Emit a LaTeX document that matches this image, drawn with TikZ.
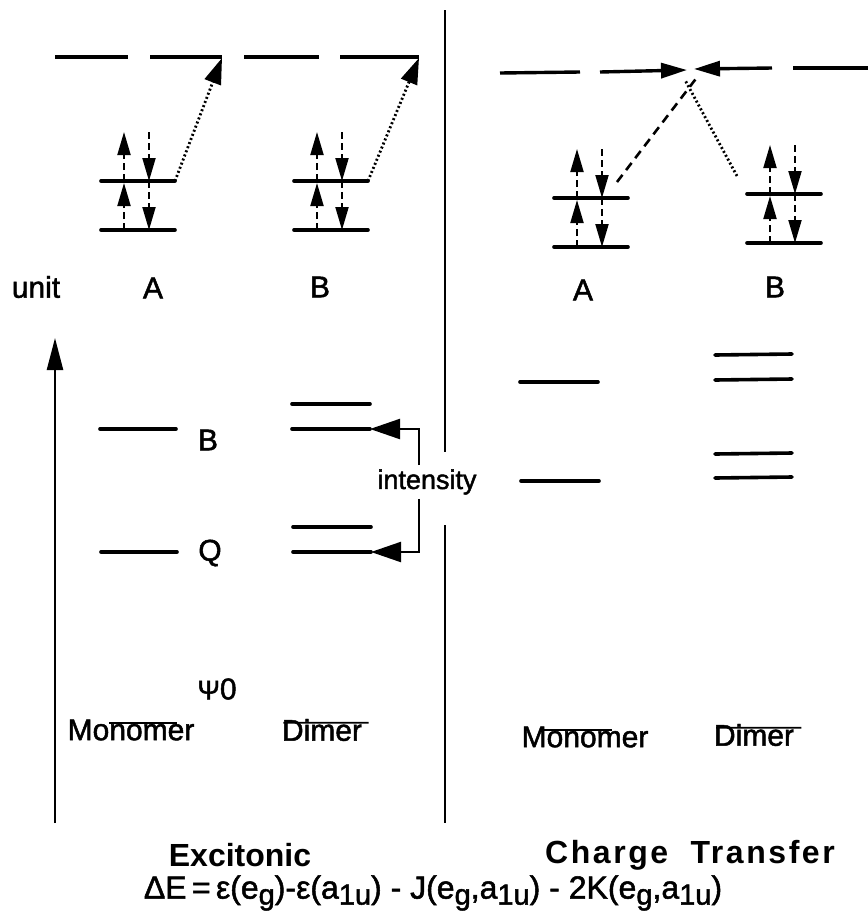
\documentclass[tikz,border=0pt]{standalone}
\usepackage{fontspec}
\setmainfont{Liberation Sans}
\usetikzlibrary{arrows.meta,calc}

% lowered index used in the orbital labels of the formula
\newcommand\lowsub[1]{\raisebox{-6pt}{\fontsize{29}{29}\selectfont #1}}
% slightly heavier regular text
\newcommand\heavy{\addfontfeature{FakeBold=1.6}}

\tikzset{
  level/.style={line width=3.6pt, line cap=round},
  topline/.style={line width=3.4pt},
  sep/.style={line width=2.4pt},
  bigtip/.style={-{Triangle[length=26pt,width=15pt]}},
  spin/.style={line width=2pt, dash pattern=on 7pt off 4pt,
    -{Triangle[length=23pt,width=13pt]}},
  dotpath/.style={line width=2.8pt, dash pattern=on 2pt off 2.4pt},
  dashpath/.style={line width=2.6pt, dash pattern=on 9pt off 6pt},
  txt/.style={font=\fontsize{30}{30}\selectfont\heavy, inner sep=0pt},
  btxt/.style={font=\fontsize{32}{32}\selectfont\bfseries, inner sep=0pt},
  overbar/.style={line width=1.8pt},
  % two filled levels with a spin pair on each
  pics/orbpair/.style={code={
    \coordinate (-hl) at (-37,0);  \coordinate (-hr) at (37,0);
    \coordinate (-ll) at (-37,49); \coordinate (-lr) at (37,49);
    \draw[level] (-hl) -- (-hr);
    \draw[level] (-ll) -- (-lr);
    \draw[spin] (-14,0)  -- (-14,-49);
    \draw[spin] (11,-49) -- (11,0);
    \draw[spin] (-14,49) -- (-14,2);
    \draw[spin] (11,0)   -- (11,49);
  }}
}

\begin{document}
\begin{tikzpicture}[x=1pt,y=-1pt]
\useasboundingbox (0,0) rectangle (868,914);

% ---------- excitonic half ----------
\draw[topline] (55,57) -- (128,57);
\draw[topline] (150,57) -- (222,57);
\draw[topline] (244,57) -- (319,57);
\draw[topline] (340,57) -- (419,57);
\coordinate (tA) at (222,58);
\coordinate (tB) at (419,58);

\pic (mA) at (138,181) {orbpair};
\pic (mB) at (331,181) {orbpair};
\draw[dotpath, -{Triangle[length=26pt,width=17pt]}] (mA-hr) -- (tA);
\draw[dotpath, -{Triangle[length=26pt,width=17pt]}] (mB-hr) -- (tB);

\node[txt] (unit) at (36,287) {unit};
\node[txt] (labA) at (153,288) {A};
\node[txt] (labB) at (320,287) {B};

% energy axis
\coordinate (ax0) at (55,823);
\coordinate (ax1) at (55,338);
\draw[sep, -{Triangle[length=32pt,width=16pt]}] (ax0) -- (ax1);

% monomer levels
\coordinate (mBl) at (100,429); \coordinate (mBr) at (176,429);
\coordinate (mQl) at (101,552); \coordinate (mQr) at (177,552);
\draw[level] (mBl) -- (mBr);
\draw[level] (mQl) -- (mQr);
\node[txt] (labBB) at (208,440) {B};
\node[txt] (labQ) at (210,553) {Q};

% dimer levels
\coordinate (dB1l) at (292,404); \coordinate (dB1r) at (370,404);
\coordinate (dB2l) at (292,429); \coordinate (dB2r) at (370,429);
\coordinate (dQ1l) at (293,527); \coordinate (dQ1r) at (371,527);
\coordinate (dQ2l) at (293,552); \coordinate (dQ2r) at (371,552);
\draw[level] (dB1l) -- (dB1r);
\draw[level] (dB2l) -- (dB2r);
\draw[level] (dQ1l) -- (dQ1r);
\draw[level] (dQ2l) -- (dQ2r);

% intensity bracket
\node[font=\fontsize{27}{27}\selectfont\heavy, inner sep=4pt] (int) at (427,482) {intensity};
\draw[line width=2.2pt, -{Triangle[length=30pt,width=20pt]}]
  ($(int.north)+(-8,0)$) |- (dB2r);
\draw[line width=2.2pt, -{Triangle[length=30pt,width=20pt]}]
  ($(int.south)+(-8,0)$) |- (dQ2r);

\node[txt] (psi) at (217,689) {{\fontsize{27}{27}\selectfont Ψ}0};
\node[txt] (monoL) at (131,730) {Monomer};
\node[txt] (dimL) at (322,730) {Dimer};
\draw[overbar] ([yshift=-4pt]$(monoL.north west)!0.33!(monoL.north east)$)
  -- ([yshift=-4pt]$(monoL.north west)!0.86!(monoL.north east)$);
\draw[overbar] ([yshift=-4pt]$(dimL.north west)!0.02!(dimL.north east)$)
  -- ([yshift=-4pt]$(dimL.north west)!1.08!(dimL.north east)$);

% separator
\coordinate (s0) at (445,10);  \coordinate (s1) at (445,452);
\coordinate (s2) at (445,525); \coordinate (s3) at (445,823);
\draw[sep] (s0) -- (s1);
\draw[sep] (s2) -- (s3);

% ---------- charge transfer half ----------
\coordinate (r0) at (500,73);  \coordinate (r1) at (580,72);
\coordinate (r2) at (600,72);  \coordinate (tR) at (687,70);
\coordinate (r3) at (772,68);  \coordinate (tL) at (694,69);
\coordinate (r4) at (793,68);  \coordinate (r5) at (868,68);
\draw[topline] (r0) -- (r1);
\draw[topline, bigtip] (r2) -- (tR);
\draw[topline, bigtip] (r3) -- (tL);
\draw[topline] (r4) -- (r5);

\pic (cA) at (591,198) {orbpair};
\pic (cB) at (784,194) {orbpair};
\coordinate (xA) at (698,76);
\coordinate (xB) at (685,80);
\draw[dashpath] ([shift={(-11,-16)}]cA-hr) -- (xA);
\draw[dotpath] ([shift={(-10,-18)}]cB-hl) -- (xB);

\node[txt] (labA2) at (583,290) {A};
\node[txt] (labB2) at (775,287) {B};

\coordinate (cm1l) at (520,382); \coordinate (cm1r) at (598,382);
\coordinate (cm2l) at (521,481); \coordinate (cm2r) at (599,481);
\draw[level] (cm1l) -- (cm1r);
\draw[level] (cm2l) -- (cm2r);
\coordinate (cd1l) at (715,355); \coordinate (cd1r) at (792,354);
\coordinate (cd2l) at (715,380); \coordinate (cd2r) at (792,379);
\coordinate (cd3l) at (715,454); \coordinate (cd3r) at (792,453);
\coordinate (cd4l) at (715,478); \coordinate (cd4r) at (792,477);
\draw[level] (cd1l) -- (cd1r);
\draw[level] (cd2l) -- (cd2r);
\draw[level] (cd3l) -- (cd3r);
\draw[level] (cd4l) -- (cd4r);

\node[txt] (monoR) at (585,737) {Monomer};
\node[txt] (dimR) at (754,735) {Dimer};
\draw[overbar] ([yshift=-4pt]$(monoR.north west)!0.16!(monoR.north east)$)
  -- ([yshift=-4pt]$(monoR.north west)!0.71!(monoR.north east)$);
\draw[overbar] ([yshift=-4pt]$(dimR.north west)!0.03!(dimR.north east)$)
  -- ([yshift=-4pt]$(dimR.north west)!1.09!(dimR.north east)$);

% ---------- captions ----------
\node[btxt] (exc) at (240,855) {Excitonic};
\node[btxt] (ct) at (690,855)
  {\addfontfeature{LetterSpace=8}Charge\hspace{0.7em}Transfer};
\node[txt, font=\fontsize{32}{32}\selectfont\heavy] (form) at (433,893)
  {ΔE\,=\,ε(e\lowsub{g})-ε(a\lowsub{1u}) - J(e\lowsub{g},a\lowsub{1u}) - 2K(e\lowsub{g},a\lowsub{1u})};
\end{tikzpicture}
\end{document}
